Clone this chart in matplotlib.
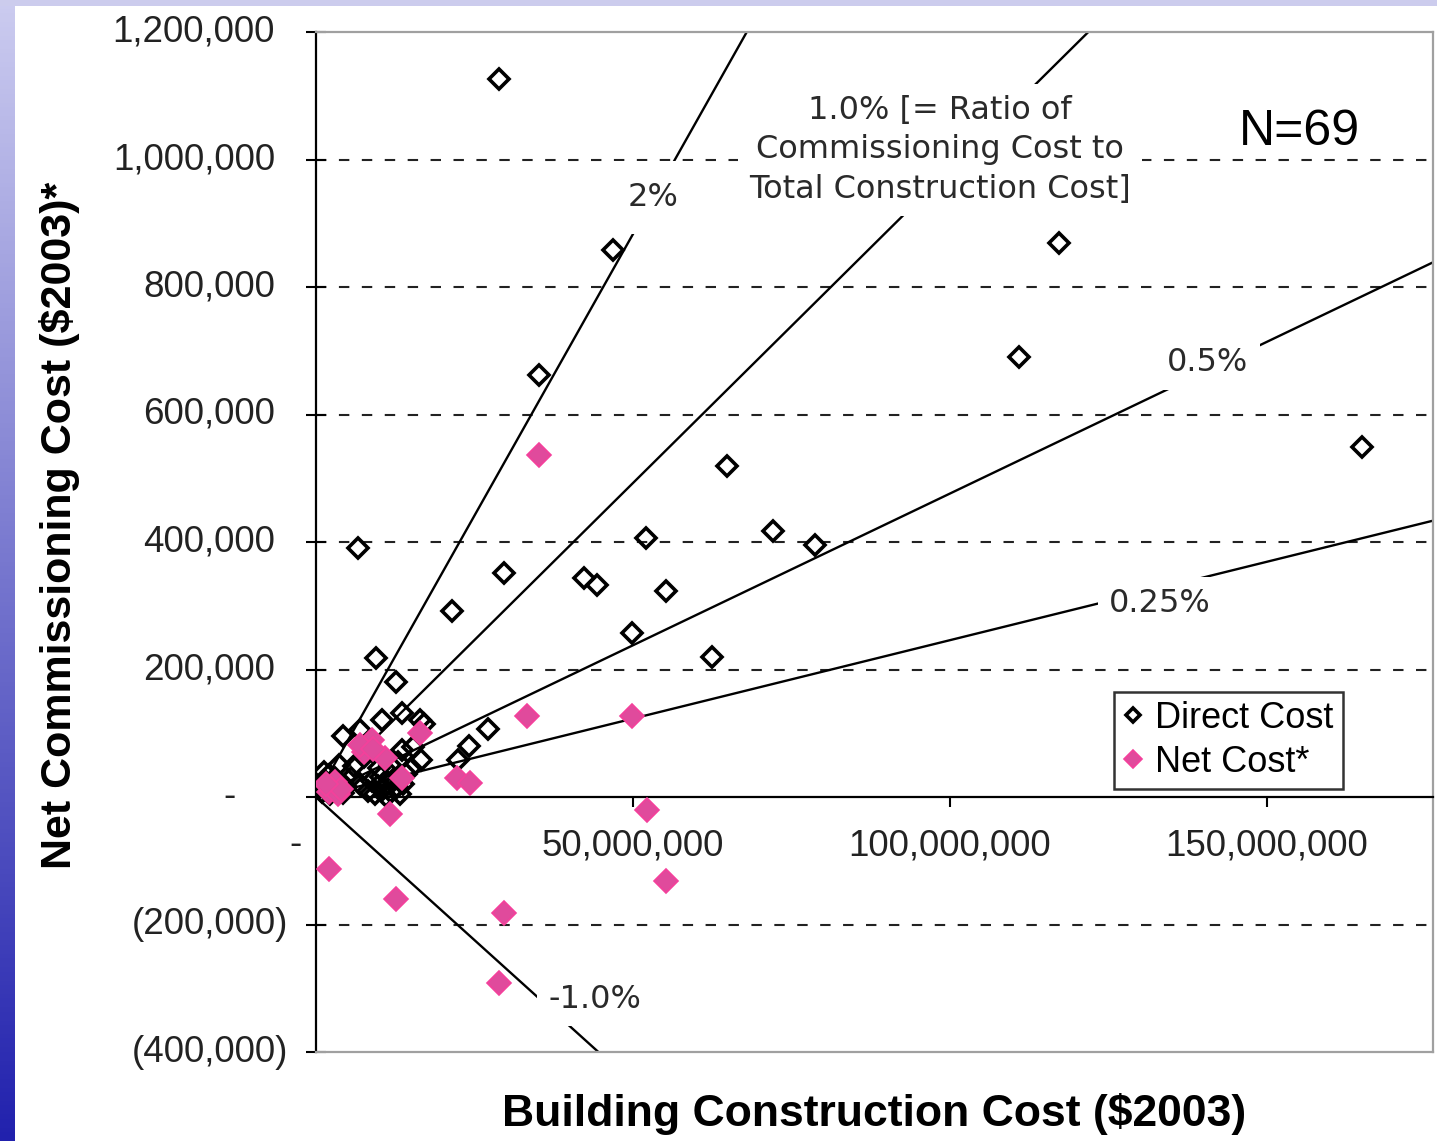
import numpy as np
import matplotlib
matplotlib.use("Agg")
import matplotlib.pyplot as plt

# building construction cost (million $2003) and commissioning cost (thousand $2003)
direct_x = [28.9, 46.8, 117.2, 35.2, 110.9, 165.0, 64.8, 6.6, 72.1, 78.7, 52.1, 29.7,
            42.3, 44.3, 55.2, 21.5, 49.8, 62.5, 9.5, 12.6, 27.1, 24.1, 22.4,
            4.3, 6.9, 10.4, 13.6, 16.4, 17.0, 13.6, 15.3,
            0.5, 1.0, 1.4, 1.8, 2.2, 2.6, 3.0, 3.4, 3.8, 4.3, 4.8, 2.0, 1.2,
            8.2, 8.8, 9.3, 9.8, 10.2, 10.6, 11.0, 11.4, 11.9, 12.3, 12.8, 13.2, 13.7,
            14.2, 10.0, 11.7, 13.0, 7.5, 6.0, 15.0, 5.5, 16.5, 3.6, 7.0, 9.0]
direct_y = [1126, 858, 869, 662, 690, 549, 519, 391, 417, 395, 406, 351,
            344, 333, 323, 292, 257, 220, 218, 180, 107, 80, 58,
            96, 105, 121, 132, 121, 115, 74, 78,
            18, 8, 25, 14, 4, 20, 30, 12, 22, 6, 16, 35, 40,
            10, 25, 5, 18, 32, 12, 2, 22, 8, 28, 15, 4, 20,
            36, 45, 50, 55, 62, 48, 45, 30, 58, 50, 20, 70]

net_x = [35.2, 33.3, 49.8, 52.2, 55.2, 29.7, 28.9, 12.6, 2.1, 11.7, 16.4, 8.0,
         8.8, 7.5, 10.9, 13.6, 22.2, 24.3, 2.5, 3.0, 2.0, 3.5, 4.0, 1.5, 7.0, 9.0]
net_y = [536, 127, 127, -20, -132, -182, -292, -160, -113, -27, 100, 77,
         89, 70, 61, 30, 30, 22, 16, 24, 8, 5, 12, 20, 82, 75]

# ratio lines as drawn (slopes) and their labels
ratio_slopes = [0.01766, 0.00985, 0.00476, 0.00246, -0.00898]
ratio_labels = ["2%", "1.0% [= Ratio of\nCommissioning Cost to\nTotal Construction Cost]",
                "0.5%", "0.25%", "-1.0%"]
label_x = [53.2, 98.4, 140.7, 133.1, 44.0]
label_y = [940, 1015, 681, 304, -318]
label_pad = [0.65, 0.35, 0.35, 0.35, 0.35]

y_ticks = [1200000, 1000000, 800000, 600000, 400000, 200000, 0, -200000, -400000]
x_ticks = [50e6, 100e6, 150e6]

W, H = 1437, 1141
fig = plt.figure(figsize=(W / 100, H / 100), dpi=100)

# slide background strips
bg_left = fig.add_axes([0, 0, 14 / W, 1])
grad = np.linspace(0, 1, 256).reshape(-1, 1)
top_c = np.array([0.80, 0.80, 0.94])
bot_c = np.array([0.13, 0.13, 0.68])
img = top_c[None, None, :] * (1 - grad[:, :, None]) + bot_c[None, None, :] * grad[:, :, None]
bg_left.imshow(img, aspect="auto", extent=[0, 1, 0, 1])
bg_left.axis("off")
bg_top = fig.add_axes([0, 1 - 6 / H, 1, 6 / H])
bg_top.set_facecolor((0.80, 0.80, 0.93))
bg_top.set_xticks([])
bg_top.set_yticks([])
for s in bg_top.spines.values():
    s.set_visible(False)

ax = fig.add_axes([316 / W, 89 / H, 1117 / W, 1020 / H])
xmax = 176.2e6
ax.set_xlim(0, xmax)
ax.set_ylim(-400000, 1200000)

sans = "Liberation Sans"
tick_color = "#222222"

# dashed gridlines
for v in y_ticks:
    if v not in (0, 1200000, -400000):
        ax.axhline(v, color="#222222", lw=1.5, ls=(0, (5, 6)), zorder=1)

# ratio lines
xs = np.array([0, xmax])
for k in ratio_slopes:
    ax.plot(xs, k * xs, color="black", lw=1.7, zorder=2)

for lx, ly, s, p in zip(label_x, label_y, ratio_labels, label_pad):
    ax.text(lx * 1e6, ly * 1e3, s, ha="center", va="center", fontsize=23,
            family="DejaVu Sans", color="#2a2a2a", linespacing=1.35,
            bbox=dict(boxstyle="square,pad=%s" % p, fc="white", ec="none"), zorder=4)

ax.text(155.2e6, 1043e3, "N=69", ha="center", va="center", fontsize=36,
        family=sans, color="black", zorder=4)

dx = np.array(direct_x) * 1e6
dy = np.array(direct_y) * 1e3
nx = np.array(net_x) * 1e6
ny = np.array(net_y) * 1e3
ax.plot(dx, dy, ls="none", marker="D", ms=10, mfc="none", mec="black", mew=2.6,
        zorder=5, label="Direct Cost")
ax.plot(nx, ny, ls="none", marker="D", ms=12.5, mfc="#E04A9C", mec="#F4409B", mew=1.2,
        zorder=6, label="Net Cost*")

# spines
ax.spines["bottom"].set_position(("data", 0))
ax.spines["bottom"].set_color("black")
ax.spines["left"].set_color("black")
for s in ("bottom", "left"):
    ax.spines[s].set_linewidth(1.6)
for s in ("top", "right"):
    ax.spines[s].set_color("#a0a0a0")
    ax.spines[s].set_linewidth(1.6)
ax.plot([0, 1], [0, 0], transform=ax.transAxes, color="#a0a0a0", lw=1.6, clip_on=False, zorder=3)

ax.set_xticks(x_ticks)
ax.set_xticklabels(["{:,.0f}".format(v) for v in x_ticks])
ax.tick_params(axis="x", direction="out", length=7, width=1.5, pad=16,
               labelsize=26.5, labelcolor=tick_color)
for t in ax.get_xticklabels():
    t.set_family(sans)

ax.set_yticks(y_ticks)
ax.tick_params(axis="y", direction="inout", length=14, width=1.5, labelleft=False)
ytr = ax.get_yaxis_transform()
for v in y_ticks:
    if v > 0:
        ax.text(-0.0367, v, "{:,.0f}".format(v), transform=ytr, ha="right", va="center",
                fontsize=26.5, family=sans, color=tick_color)
    elif v < 0:
        ax.text(-0.0251, v, "({:,.0f})".format(-v), transform=ytr, ha="right", va="center",
                fontsize=26.5, family=sans, color=tick_color)
    else:
        ax.text(-0.077, v, "-", transform=ytr, ha="center", va="center",
                fontsize=26.5, family=sans, color=tick_color)
ax.text(-0.0188, -75000, "-", transform=ytr, ha="center", va="center",
        fontsize=26.5, family=sans, color=tick_color)

ax.set_xlabel("Building Construction Cost ($2003)", fontsize=32, fontweight="bold",
              family=sans, color="black")
ax.xaxis.set_label_coords(0.5, -0.040)
ax.set_ylabel("Net Commissioning Cost ($2003)*", fontsize=31, fontweight="bold",
              family=sans, color="black")
ax.yaxis.set_label_coords(-0.2113, 0.5167)

leg = ax.legend(loc="lower right", bbox_to_anchor=(0.919, 0.258),
                prop={"family": sans, "size": 26}, frameon=True, fancybox=False,
                handlelength=0.6, handletextpad=0.3, labelspacing=0.25,
                borderpad=0.25, borderaxespad=0, markerscale=0.75)
leg.get_frame().set_edgecolor("black")
leg.get_frame().set_linewidth(1.8)
leg.set_zorder(7)

fig.savefig("out.png", dpi=100)
